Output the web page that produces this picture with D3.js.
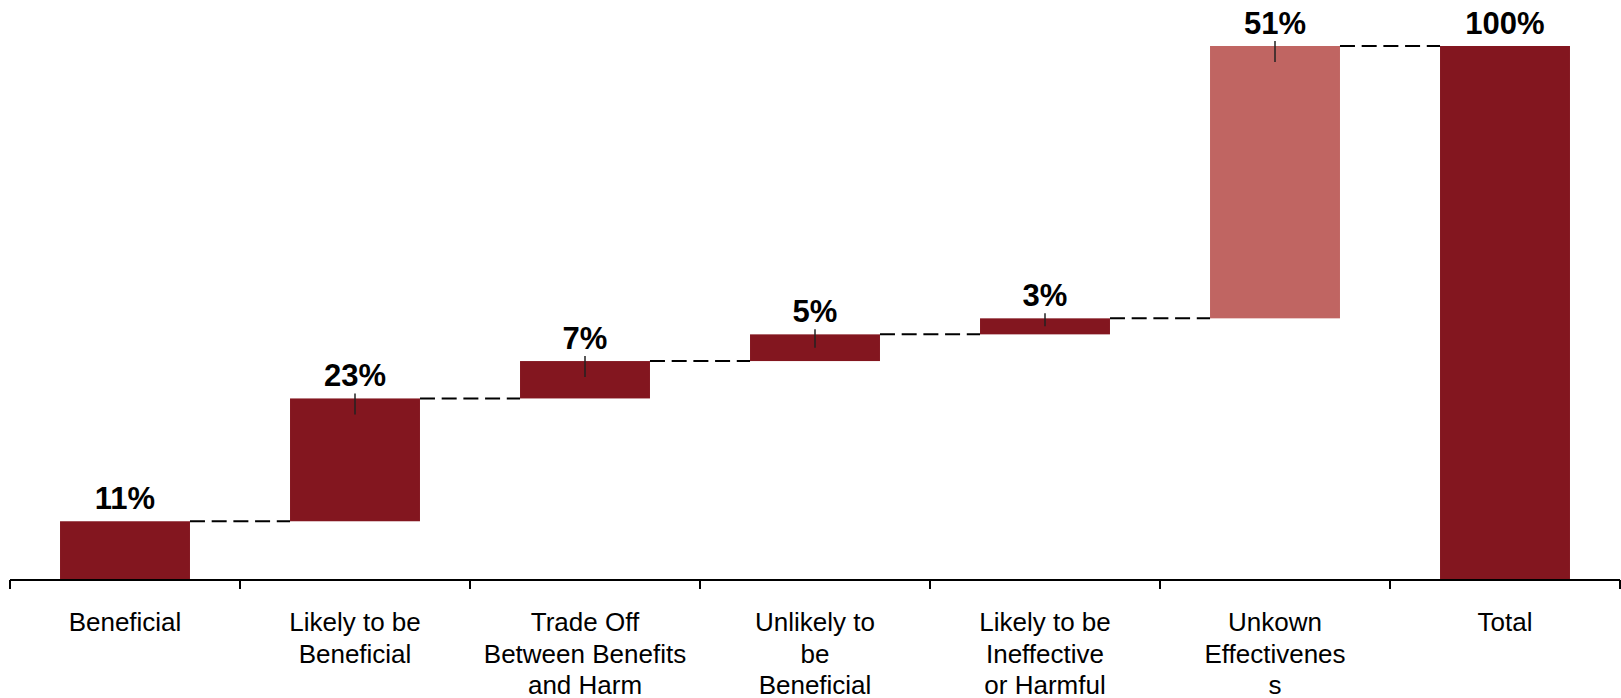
<!DOCTYPE html>
<html>
<head>
<meta charset="utf-8">
<script src="https://cdn.jsdelivr.net/npm/d3@7/dist/d3.min.js"></script>
<style>
html,body{margin:0;padding:0;background:#fff;}
svg{display:block;}
</style>
</head>
<body>
<svg id="chart" width="1621" height="698"></svg>
<script>
// ---- data ----
const categories = ["Beneficial","Likely to be Beneficial","Trade Off Between Benefits and Harm","Unlikely to be Beneficial","Likely to be Ineffective or Harmful","Unkown Effectiveness","Total"];
const categoryLines = [["Beneficial"],["Likely to be","Beneficial"],["Trade Off","Between Benefits","and Harm"],["Unlikely to","be","Beneficial"],["Likely to be","Ineffective","or Harmful"],["Unkown","Effectivenes","s"],["Total"]];
const values = [11, 23, 7, 5, 3, 51, 100];
const isTotal = [false, false, false, false, false, false, true];
const valueLabels = ["11%","23%","7%","5%","3%","51%","100%"];
const barColors = ["#83161F","#83161F","#83161F","#83161F","#83161F","#C06562","#83161F"];

// ---- compute waterfall ----
let cum = 0;
const bars = categories.map((c,i)=>{
  let start, end;
  if (isTotal[i]) { start = 0; end = values[i]; }
  else { start = cum; end = cum + values[i]; }
  cum = isTotal[i] ? values[i] : end;
  return {cat:c, i, start, end, floating: !isTotal[i] && i>0};
});

const svg = d3.select("#chart");
const axisY = 580;
const x = d3.scaleBand().domain(categories).range([10,1620]).padding(0);
const barW = x.bandwidth()*0.565;
const y = d3.scaleLinear().domain([0,100]).range([axisY, 46]);

// bars
svg.selectAll("rect.bar").data(bars).enter().append("rect")
  .attr("x", d=>x(d.cat)+(x.bandwidth()-barW)/2)
  .attr("y", d=>y(d.end))
  .attr("width", barW)
  .attr("height", d=>y(d.start)-y(d.end))
  .attr("fill", (d,i)=>barColors[i]);

// connectors
for (let i=0;i<bars.length-1;i++){
  const a = bars[i], b = bars[i+1];
  svg.append("line")
    .attr("x1", x(a.cat)+(x.bandwidth()+barW)/2)
    .attr("x2", x(b.cat)+(x.bandwidth()-barW)/2)
    .attr("y1", y(a.end)).attr("y2", y(a.end))
    .attr("stroke","#000").attr("stroke-width",2)
    .attr("stroke-dasharray","15,6.7");
}

// small marker lines on floating bars
bars.filter(d=>d.floating).forEach(d=>{
  const cx = x(d.cat)+x.bandwidth()/2;
  const top = y(d.end), bot = y(d.start);
  svg.append("line")
    .attr("x1",cx).attr("x2",cx)
    .attr("y1",top-5).attr("y2",Math.min(top+16,(top+bot)/2))
    .attr("stroke","#222").attr("stroke-width",1.5);
});

// value labels
svg.selectAll("text.val").data(bars).enter().append("text")
  .attr("x", d=>x(d.cat)+x.bandwidth()/2)
  .attr("y", d=>y(d.end)-12)
  .attr("text-anchor","middle")
  .attr("font-family","Liberation Sans, Arial, sans-serif")
  .attr("font-weight","bold")
  .attr("font-size","31px")
  .attr("fill","#000")
  .text((d,i)=>valueLabels[i]);

// axis
svg.append("line").attr("x1",10).attr("x2",1620).attr("y1",axisY).attr("y2",axisY)
  .attr("stroke","#000").attr("stroke-width",2);
const tickXs = categories.map(c=>x(c)).concat([x(categories[categories.length-1])+x.bandwidth()]);
tickXs.forEach(tx=>{
  svg.append("line").attr("x1",tx).attr("x2",tx).attr("y1",axisY).attr("y2",axisY+9)
    .attr("stroke","#000").attr("stroke-width",2);
});

// category labels
categories.forEach((c,i)=>{
  const t = svg.append("text")
    .attr("x", x(c)+x.bandwidth()/2)
    .attr("y", axisY+51)
    .attr("text-anchor","middle")
    .attr("font-family","Liberation Sans, Arial, sans-serif")
    .attr("font-size","26px")
    .attr("fill","#000");
  categoryLines[i].forEach((ln,j)=>{
    t.append("tspan").attr("x", x(c)+x.bandwidth()/2).attr("dy", j===0?0:31.5).text(ln);
  });
});
</script>
</body>
</html>
